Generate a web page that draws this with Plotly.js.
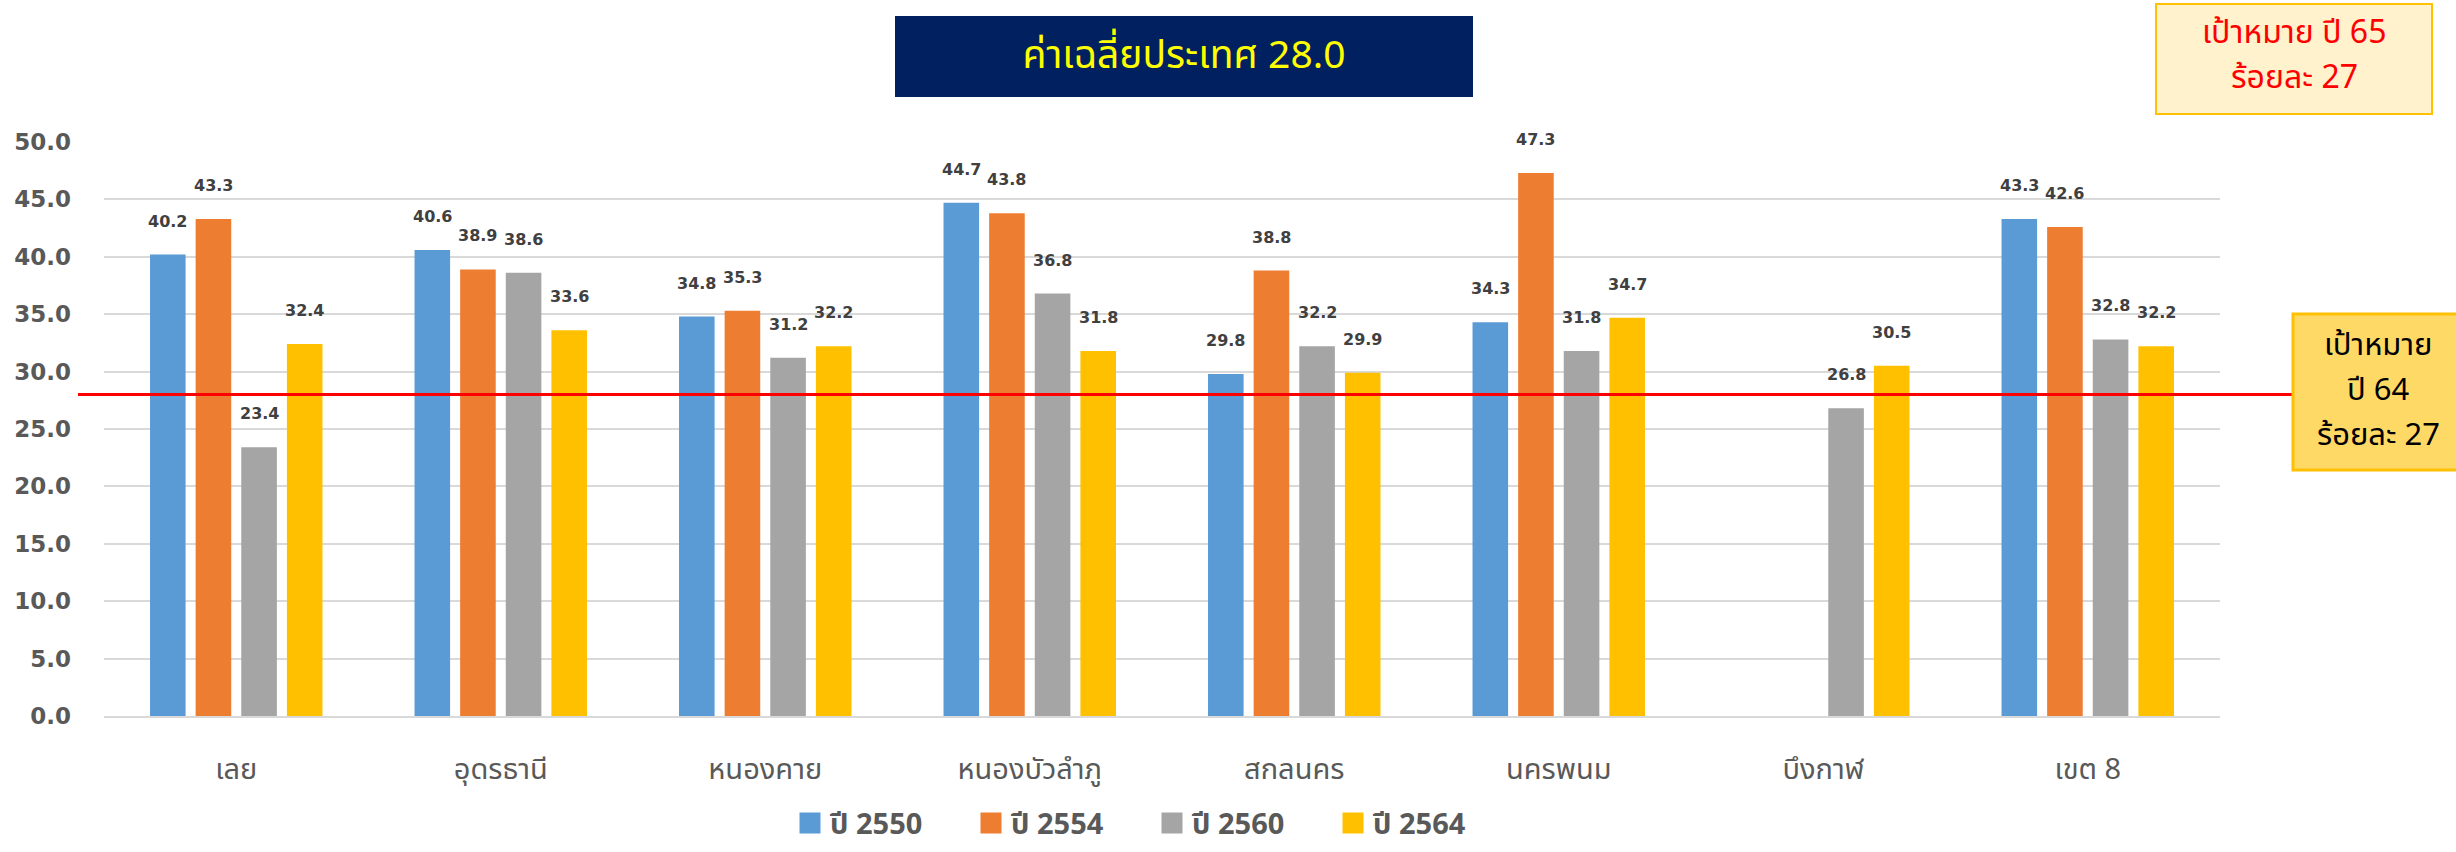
<!DOCTYPE html>
<html>
<head>
<meta charset="utf-8">
<script src="https://cdn.plot.ly/plotly-3.0.1.min.js"></script>
<style>html,body{margin:0;padding:0;background:#fff;}#chart{width:2456px;height:852px;}</style>
</head>
<body>
<div id="chart"></div>
<script>
// ---- data ----
const categories = ["เลย", "อุดรธานี", "หนองคาย", "หนองบัวลำภู", "สกลนคร", "นครพนม", "บึงกาฬ", "เขต 8"];
const seriesNames = ["ปี 2550", "ปี 2554", "ปี 2560", "ปี 2564"];
const y2550 = [40.2, 40.6, 34.8, 44.7, 29.8, 34.3, null, 43.3];
const y2554 = [43.3, 38.9, 35.3, 43.8, 38.8, 47.3, null, 42.6];
const y2560 = [23.4, 38.6, 31.2, 36.8, 32.2, 31.8, 26.8, 32.8];
const y2564 = [32.4, 33.6, 32.2, 31.8, 29.9, 34.7, 30.5, 32.2];
const countryAvg = 28.0;
const titleText = "ค่าเฉลี่ยประเทศ 28.0";
const target65Lines = ["เป้าหมาย ปี 65", "ร้อยละ 27"];
const target64Lines = ["เป้าหมาย", "ปี 64", "ร้อยละ 27"];
const yTickVals = [0, 5, 10, 15, 20, 25, 30, 35, 40, 45, 50];

// ---- styling ----
const colors = ["#5B9BD5", "#ED7D31", "#A5A5A5", "#FFC000"];
const allSeries = [y2550, y2554, y2560, y2564];
const thaiFont = "Noto Sans Thai, Noto Sans, sans-serif";

const traces = allSeries.map((ys, i) => ({
  type: "bar",
  name: seriesNames[i],
  x: categories,
  y: ys,
  marker: {color: colors[i]},
  showlegend: false,
  hoverinfo: "y"
}));
// legend-only entries (larger square swatches)
seriesNames.forEach((nm, i) => {
  traces.push({
    type: "scatter", mode: "markers", name: nm,
    x: [null], y: [null],
    marker: {symbol: "square", size: 16, color: colors[i], line: {color: colors[i], width: 5}},
    showlegend: true
  });
});

// layout geometry
const W = 2456, H = 852;
const margin = {l: 104, r: 236, t: 142, b: 136};
const plotW = W - margin.l - margin.r;
const plotH = H - margin.t - margin.b;
const catW = plotW / categories.length;
const bargap = 0.31, bargroupgap = 0.22;
const slotW = catW * (1 - bargap) / allSeries.length;
const px2x = px => (px - margin.l) / plotW;
const px2y = py => (H - margin.b - py) / plotH;

const annotations = [];
allSeries.forEach((ys, i) => {
  const off = (i - (allSeries.length - 1) / 2) * slotW;
  ys.forEach((v, j) => {
    if (v === null) return;
    annotations.push({
      x: categories[j], y: v, xref: "x", yref: "y",
      text: v.toFixed(1), showarrow: false,
      xshift: off, yshift: 22, yanchor: "bottom",
      font: {family: "DejaVu Sans, sans-serif", size: 16, color: "#404040", weight: "bold"}
    });
  });
});

// title box
annotations.push({
  xref: "paper", yref: "paper", x: px2x(1184), y: px2y(56.5),
  xanchor: "center", yanchor: "middle",
  text: titleText, showarrow: false,
  width: 574, height: 77,
  bgcolor: "#002060", bordercolor: "#002060", borderwidth: 1,
  font: {family: thaiFont, size: 39, color: "#FFFF00"}
});
// target 65 lines
[33, 78].forEach((cy, k) => annotations.push({
  xref: "paper", yref: "paper", x: px2x(2294), y: px2y(cy),
  xanchor: "center", yanchor: "middle", showarrow: false,
  text: target65Lines[k],
  font: {family: thaiFont, size: 32, color: "#FF0000"}
}));
// target 64 lines
[345, 390, 435].forEach((cy, k) => annotations.push({
  xref: "paper", yref: "paper", x: px2x(2378), y: px2y(cy),
  xanchor: "center", yanchor: "middle", showarrow: false,
  text: target64Lines[k],
  font: {family: thaiFont, size: 31, color: "#000000"}
}));

const layout = {
  width: W, height: H,
  margin: margin,
  paper_bgcolor: "#ffffff", plot_bgcolor: "#ffffff",
  barmode: "group", bargap: bargap, bargroupgap: bargroupgap,
  showlegend: true,
  legend: {
    orientation: "h", xref: "paper", x: px2x(1152), xanchor: "center",
    yref: "container", y: 0.004, yanchor: "bottom",
    font: {family: thaiFont, size: 29, color: "#595959", weight: "bold"},
    itemwidth: 30, entrywidth: 136, entrywidthmode: "pixels",
    tracegroupgap: 0, bgcolor: "rgba(0,0,0,0)"
  },
  xaxis: {
    type: "category",
    showgrid: false, showline: true, linecolor: "#D9D9D9", linewidth: 2,
    ticks: "", ticklabelstandoff: 26,
    tickfont: {family: thaiFont, size: 29, color: "#595959"},
    fixedrange: true
  },
  yaxis: {
    range: [0, 50], tickvals: yTickVals, tickformat: ".1f",
    showgrid: true, gridcolor: "#D9D9D9", gridwidth: 2,
    zeroline: false, showline: false,
    ticks: "", ticklabelstandoff: 32,
    tickfont: {family: "DejaVu Sans, sans-serif", size: 23, color: "#595959", weight: "bold"},
    fixedrange: true
  },
  shapes: [
    {type: "line", xref: "paper", yref: "y",
     x0: px2x(78), x1: px2x(2293), y0: countryAvg, y1: countryAvg,
     line: {color: "#FF0000", width: 3}},
    {type: "rect", xref: "paper", yref: "paper", layer: "below",
     x0: px2x(2156), x1: px2x(2432), y0: px2y(114), y1: px2y(4),
     fillcolor: "#FFF2CC", line: {color: "#FFC000", width: 2}},
    {type: "rect", xref: "paper", yref: "paper", layer: "above",
     x0: px2x(2293), x1: px2x(2470), y0: px2y(470), y1: px2y(314),
     fillcolor: "#FFD966", line: {color: "#FFC000", width: 3}}
  ],
  annotations: annotations
};

Plotly.newPlot("chart", traces, layout, {displayModeBar: false, staticPlot: true});
</script>
</body>
</html>
